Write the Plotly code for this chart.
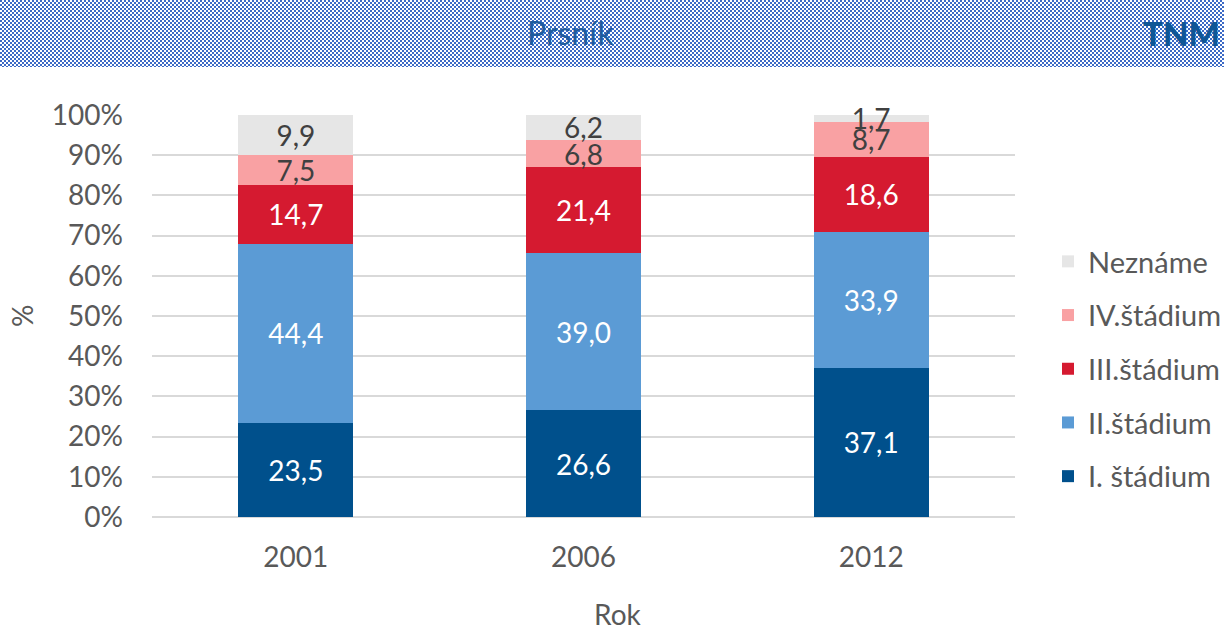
import base64
import struct
import zlib

import plotly.graph_objects as go

# ---------------- data ----------------
years = ["2001", "2006", "2012"]
stage_names = ["I. štádium", "II.štádium", "III.štádium", "IV.štádium", "Neznáme"]
stage1 = [23.5, 26.6, 37.1]
stage2 = [44.4, 39.0, 33.9]
stage3 = [14.7, 21.4, 18.6]
stage4 = [7.5, 6.8, 8.7]
unknown = [9.9, 6.2, 1.7]
y_ticks = [0, 10, 20, 30, 40, 50, 60, 70, 80, 90, 100]

series = [stage1, stage2, stage3, stage4, unknown]
colors = ["#00508C", "#5B9BD5", "#D51A30", "#F9A1A3", "#E6E6E6"]
text_colors = ["#FFFFFF", "#FFFFFF", "#FFFFFF", "#404040", "#404040"]

FONT = "Lato"
W, H = 1224, 630
L, R, T, B = 152, 209, 115, 113
PW, PH = W - L - R, H - T - B


def px_x(x):
    return (x - L) / PW


def px_y(y):
    return (H - B - y) / PH


# ---------------- checkerboard header image ----------------
def checker_png(w, h, cell, rgb1, rgb2):
    rows = []
    for y in range(h):
        row = bytearray([0])
        for x in range(w):
            c = rgb1 if ((x // cell) + (y // cell)) % 2 == 0 else rgb2
            row += bytes(c)
        rows.append(bytes(row))
    raw = b"".join(rows)

    def chunk(tag, data):
        c = struct.pack(">I", len(data)) + tag + data
        return c + struct.pack(">I", zlib.crc32(tag + data) & 0xFFFFFFFF)

    png = b"\x89PNG\r\n\x1a\n"
    png += chunk(b"IHDR", struct.pack(">IIBBBBB", w, h, 8, 2, 0, 0, 0))
    png += chunk(b"IDAT", zlib.compress(raw, 9))
    png += chunk(b"IEND", b"")
    return "data:image/png;base64," + base64.b64encode(png).decode()


HEADER_H = 67
header_src = checker_png(W, HEADER_H, 2, (60, 106, 198), (255, 255, 255))

# ---------------- figure ----------------
fig = go.Figure()
for i, (name, vals, col, tcol) in enumerate(zip(stage_names, series, colors, text_colors)):
    fig.add_trace(
        go.Bar(
            x=years,
            y=vals,
            name=name,
            marker=dict(color=col, line=dict(width=0)),
            text=[f"{v:.1f}".replace(".", ",") for v in vals],
            textposition="inside",
            insidetextanchor="middle",
            textangle=0,
            textfont=dict(family=FONT, size=28, color=tcol),
            legendgroup=name,
            legendrank=1000 - i,
            hoverinfo="skip",
            cliponaxis=False,
        )
    )

fig.update_layout(
    width=W,
    height=H,
    autosize=False,
    barmode="stack",
    bargap=0.6,
    plot_bgcolor="white",
    paper_bgcolor="white",
    margin=dict(l=L, r=R, t=T, b=B, pad=0, autoexpand=False),
    font=dict(family=FONT, size=28, color="#595959"),
    uniformtext=dict(mode="show", minsize=28),
    showlegend=True,
    legend=dict(
        xref="container",
        yref="container",
        x=1048 / W,
        y=1 - 369 / H,
        xanchor="left",
        yanchor="middle",
        traceorder="grouped",
        tracegroupgap=13,
        font=dict(family=FONT, size=29, color="#595959"),
        bgcolor="rgba(0,0,0,0)",
        itemwidth=30,
    ),
    xaxis=dict(
        showgrid=False,
        showline=False,
        ticks="",
        ticklabelstandoff=21,
        tickfont=dict(family=FONT, size=28, color="#595959"),
    ),
    yaxis=dict(
        range=[0, 100.001],
        tickvals=y_ticks,
        ticktext=[f"{v}%" for v in y_ticks],
        showgrid=True,
        gridcolor="#D9D9D9",
        gridwidth=2,
        zeroline=True,
        zerolinecolor="#D9D9D9",
        zerolinewidth=2,
        showline=False,
        ticks="",
        ticklabelstandoff=28,
        tickfont=dict(family=FONT, size=28, color="#595959"),
    ),
    images=[
        dict(
            source=header_src,
            xref="paper",
            yref="paper",
            x=px_x(0),
            y=px_y(0),
            sizex=W / PW,
            sizey=HEADER_H / PH,
            xanchor="left",
            yanchor="top",
            sizing="stretch",
            layer="below",
        )
    ],
    annotations=[
        dict(
            text="Prsník",
            xref="paper",
            yref="paper",
            x=px_x(570),
            y=px_y(33),
            xanchor="center",
            yanchor="middle",
            showarrow=False,
            font=dict(family=FONT, size=32, color="#1F5C9E"),
        ),
        dict(
            text="TNM",
            xref="paper",
            yref="paper",
            x=px_x(1222),
            y=px_y(33),
            xanchor="right",
            yanchor="middle",
            showarrow=False,
            font=dict(family=FONT, size=33, color="#0F5696", weight=900),
        ),
        dict(
            text="%",
            xref="paper",
            yref="paper",
            x=px_x(22),
            y=px_y(316),
            xanchor="center",
            yanchor="middle",
            textangle=-90,
            showarrow=False,
            font=dict(family=FONT, size=28, color="#595959"),
        ),
        dict(
            text="Rok",
            xref="paper",
            yref="paper",
            x=px_x(618),
            y=px_y(614),
            xanchor="center",
            yanchor="middle",
            showarrow=False,
            font=dict(family=FONT, size=28, color="#595959"),
        ),
    ],
)

fig.write_html(
    "out.html",
    config={"displayModeBar": False, "responsive": False},
    post_script=(
        "document.documentElement.style.overflow='hidden';"
        "document.body.style.overflow='hidden';"
        "document.body.style.margin='0';document.body.style.padding='0';"
    ),
)
